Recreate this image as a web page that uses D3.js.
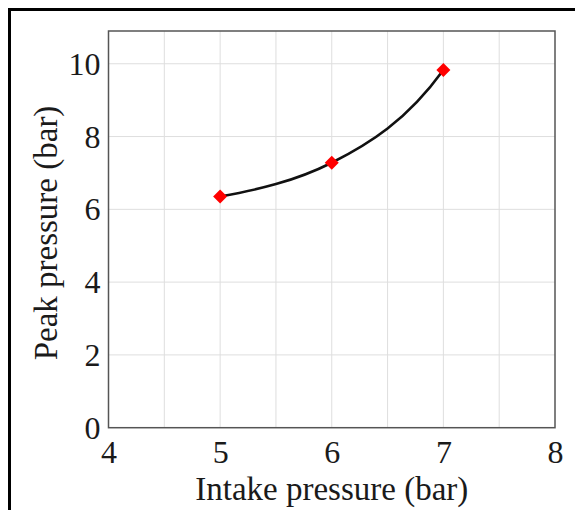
<!DOCTYPE html>
<html>
<head>
<meta charset="utf-8">
<script src="https://cdn.jsdelivr.net/npm/d3@7"></script>
<style>
  html, body { margin: 0; padding: 0; background: #fff; }
  svg { display: block; }
  text { font-family: "Liberation Serif", "Times New Roman", serif; fill: #1a1a1a; }
</style>
</head>
<body>
<svg id="chart" width="575" height="510"></svg>
<script>
// Data
const intakePressure = [5, 6, 7];
const peakPressure = [6.35, 7.28, 9.83];
const xTicks = [4, 5, 6, 7, 8];
const yTicks = [0, 2, 4, 6, 8, 10];
const xGrid = [4.5, 5, 5.5, 6, 6.5, 7, 7.5];
const yGrid = [2, 4, 6, 8, 10];
const xTitle = "Intake pressure (bar)";
const yTitle = "Peak pressure (bar)";

(function () {
const svg = d3.select("#chart");
const pL = 108.5, pR = 555, pT = 31, pB = 427.7;

const x = d3.scaleLinear().domain([4, 8]).range([pL, pR]);
const y = d3.scaleLinear().domain([0, 10.9]).range([pB, pT]);

// smooth curve factory for d3.line: cubic Hermite with geometric-mean tangents
function curveSmoothGrowth(context) {
  let pts = [];
  return {
    areaStart() {}, areaEnd() {},
    lineStart() { pts = []; },
    point(px, py) { pts.push([+px, +py]); },
    lineEnd() {
      const n = pts.length;
      if (!n) return;
      context.moveTo(pts[0][0], pts[0][1]);
      if (n === 1) return;
      const s = [];
      for (let i = 0; i < n - 1; i++) s.push((pts[i + 1][1] - pts[i][1]) / (pts[i + 1][0] - pts[i][0]));
      const m = new Array(n);
      for (let i = 1; i < n - 1; i++) {
        m[i] = s[i - 1] * s[i] > 0 ? Math.sign(s[i]) * Math.sqrt(s[i - 1] * s[i]) : 0;
      }
      if (n === 2) { m[0] = s[0]; m[1] = s[0]; }
      else {
        m[0] = m[1] ? s[0] * s[0] / m[1] : s[0];
        m[n - 1] = m[n - 2] ? s[n - 2] * s[n - 2] / m[n - 2] : s[n - 2];
      }
      for (let i = 0; i < n - 1; i++) {
        const [x0, y0] = pts[i], [x1, y1] = pts[i + 1];
        const h = (x1 - x0) / 3;
        context.bezierCurveTo(x0 + h, y0 + m[i] * h, x1 - h, y1 - m[i + 1] * h, x1, y1);
      }
    }
  };
}

// outer border
svg.append("rect").attr("x", 9.5).attr("y", 9.5).attr("width", 620).attr("height", 620)
  .attr("fill", "none").attr("stroke", "#000").attr("stroke-width", 3);

// grid
svg.append("g").selectAll("line").data(xGrid).join("line")
  .attr("x1", d => x(d)).attr("x2", d => x(d)).attr("y1", pT).attr("y2", pB)
  .attr("stroke", "#dedede").attr("stroke-width", 1);
svg.append("g").selectAll("line").data(yGrid).join("line")
  .attr("x1", pL).attr("x2", pR).attr("y1", d => y(d)).attr("y2", d => y(d))
  .attr("stroke", "#dedede").attr("stroke-width", 1);

// frame
svg.append("rect").attr("x", pL).attr("y", pT).attr("width", pR - pL).attr("height", pB - pT)
  .attr("fill", "none").attr("stroke", "#555").attr("stroke-width", 1.5);

// axes (labels only)
const xAxis = d3.axisBottom(x).tickValues(xTicks).tickSize(0).tickPadding(0).tickFormat(d3.format("d"));
const gx = svg.append("g").attr("transform", `translate(0,${pB})`).call(xAxis);
gx.select(".domain").remove();
gx.selectAll("text").attr("y", 35).attr("dy", null)
  .style("font-family", "'Liberation Serif', serif").style("font-size", "32px").attr("fill", "#1a1a1a");

const yAxis = d3.axisLeft(y).tickValues(yTicks).tickSize(0).tickPadding(0).tickFormat(d3.format("d"));
const gy = svg.append("g").attr("transform", `translate(${pL},0)`).call(yAxis);
gy.select(".domain").remove();
gy.selectAll("text").attr("x", -8).attr("dy", "0.33em")
  .style("font-family", "'Liberation Serif', serif").style("font-size", "32px").attr("fill", "#1a1a1a");

// titles
svg.append("text").attr("x", (pL + pR) / 2).attr("y", 500).attr("text-anchor", "middle")
  .style("font-size", "33px").text(xTitle);
svg.append("text").attr("transform", `translate(57,233) rotate(-90)`).attr("text-anchor", "middle")
  .style("font-size", "33px").text(yTitle);

// line
const pts = intakePressure.map((v, i) => [v, peakPressure[i]]);
svg.append("path").datum(pts)
  .attr("d", d3.line().x(d => x(d[0])).y(d => y(d[1])).curve(curveSmoothGrowth))
  .attr("fill", "none").attr("stroke", "#111").attr("stroke-width", 2.6);

// markers
svg.append("g").selectAll("path").data(pts).join("path")
  .attr("d", d3.symbol(d3.symbolSquare, 98))
  .attr("transform", d => `translate(${x(d[0])},${y(d[1])}) rotate(45)`)
  .attr("fill", "#ff0000");
})();
</script>
</body>
</html>
